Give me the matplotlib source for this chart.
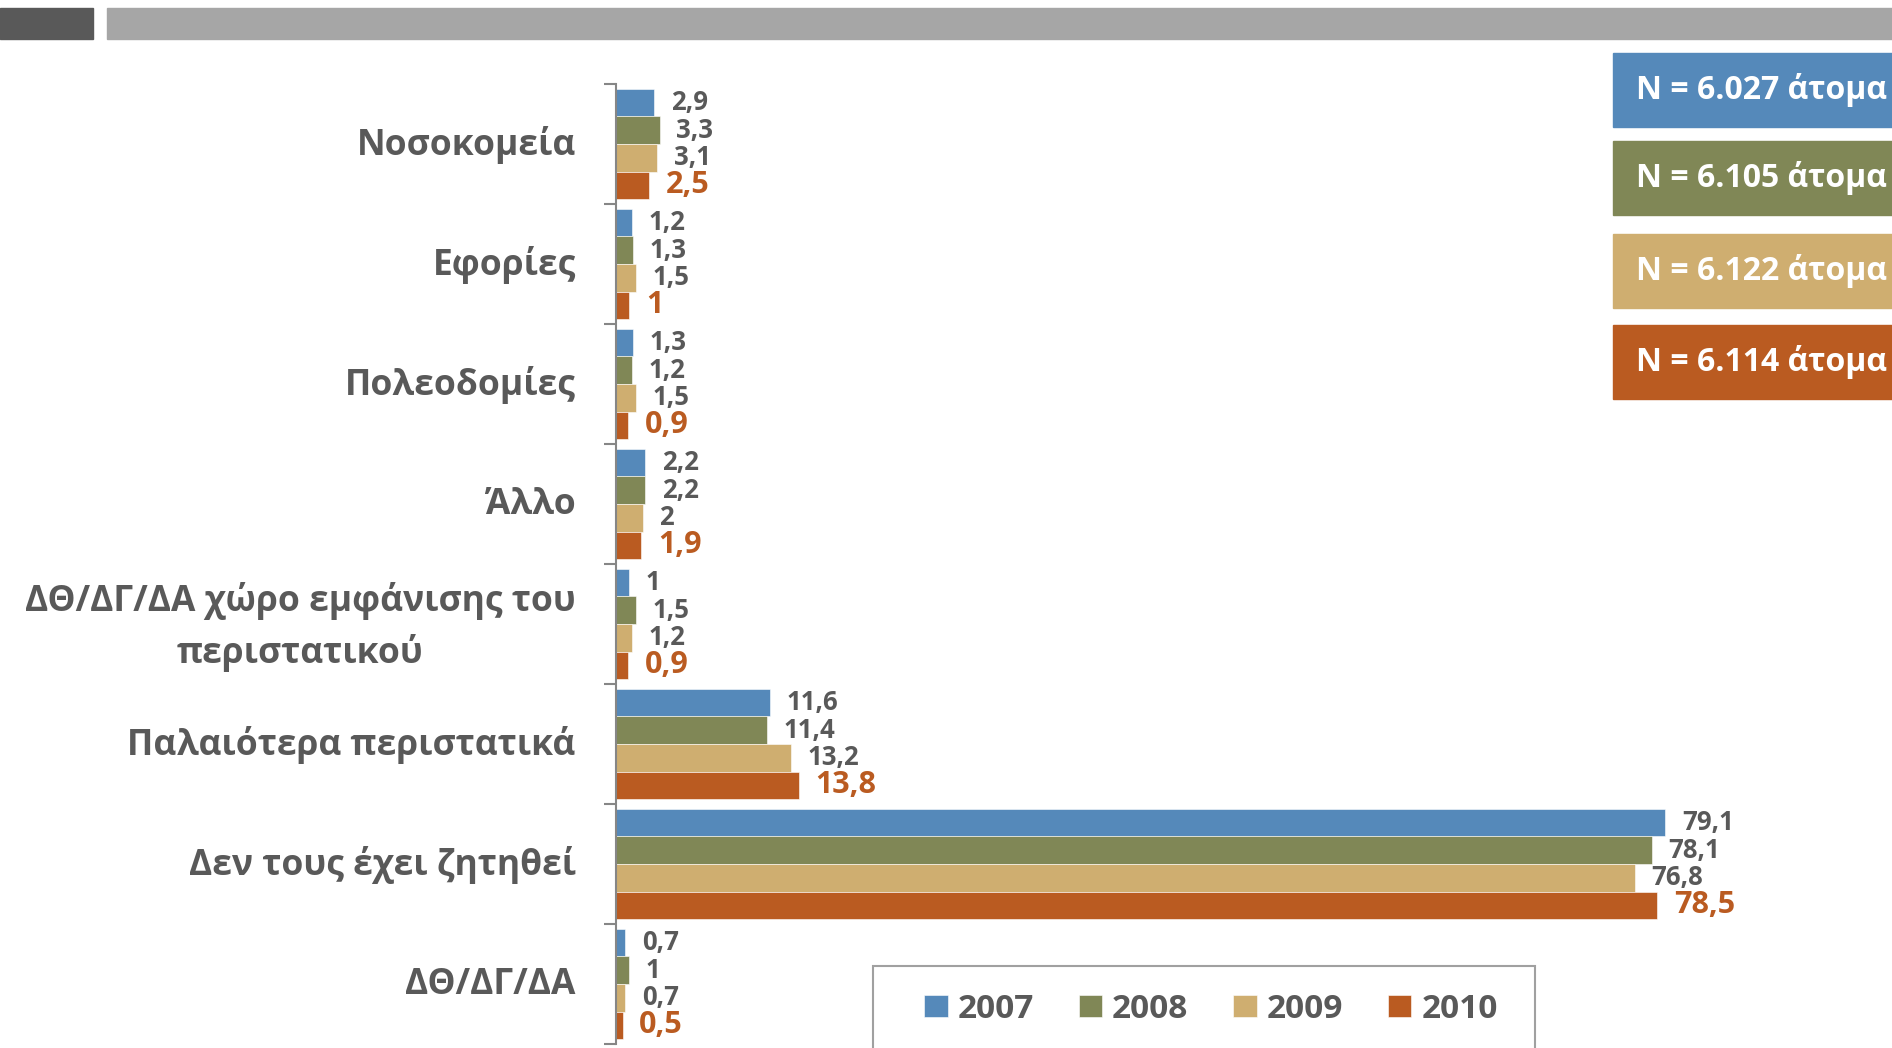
import matplotlib.pyplot as plt
import matplotlib.patches as patches
import matplotlib.transforms as mtransforms
import numpy as np

plt.rcParams['font.family'] = ['Open Sans', 'DejaVu Sans']

categories = ['Νοσοκομεία', 'Εφορίες', 'Πολεοδομίες', 'Άλλο',
              'ΔΘ/ΔΓ/ΔΑ χώρο εμφάνισης του\nπεριστατικού',
              'Παλαιότερα περιστατικά', 'Δεν τους έχει ζητηθεί', 'ΔΘ/ΔΓ/ΔΑ']
years = ['2007', '2008', '2009', '2010']
v2007 = [2.9, 1.2, 1.3, 2.2, 1, 11.6, 79.1, 0.7]
v2008 = [3.3, 1.3, 1.2, 2.2, 1.5, 11.4, 78.1, 1]
v2009 = [3.1, 1.5, 1.5, 2, 1.2, 13.2, 76.8, 0.7]
v2010 = [2.5, 1, 0.9, 1.9, 0.9, 13.8, 78.5, 0.5]
sample_sizes = ['N = 6.027 άτομα', 'N = 6.105 άτομα', 'N = 6.122 άτομα', 'N = 6.114 άτομα']

colors = ['#5589BA', '#808756', '#CFAE70', '#BA5B21']
grey = '#595959'

W, H = 1892, 1048
fig = plt.figure(figsize=(W / 100, H / 100), dpi=100)

# header strips
fig.patches.append(patches.Rectangle((0, 1 - 39 / H), 93 / W, 31 / H,
                                     transform=fig.transFigure, color='#595959'))
fig.patches.append(patches.Rectangle((107 / W, 1 - 39 / H), 1 - 107 / W, 31 / H,
                                     transform=fig.transFigure, color='#A6A6A6'))

ax = fig.add_axes([616 / W, 1 - 1044 / H, 1 - 616 / W, 960 / H])

y = np.arange(len(categories))
h = 0.23
offsets = [-1.5 * h, -0.5 * h, 0.5 * h, 1.5 * h]
series = [v2007, v2008, v2009, v2010]
for vals, off, c, yr in zip(series, offsets, colors, years):
    bars = ax.barh(y + off, vals, height=h, color=c, label=yr,
                   edgecolor='white', linewidth=0.4)
    labels = [('%g' % v).replace('.', ',') for v in vals]
    if yr == '2010':
        ax.bar_label(bars, labels=labels, padding=12, fontsize=22,
                     fontweight='bold', color=colors[3])
    else:
        ax.bar_label(bars, labels=labels, padding=12, fontsize=18.5,
                     fontweight='bold', color=grey)

ax.set_xlim(0, 96.2)
ax.set_ylim(len(categories) - 0.5, -0.5)
ax.set_yticks(y, categories)
ax.set_yticks(np.arange(len(categories) + 1) - 0.5, minor=True)
ax.tick_params(axis='y', which='major', length=0, pad=29, labelsize=25.5,
               labelcolor=grey)
ax.tick_params(axis='y', which='minor', length=9, width=1.5, color='#868686')
for t in ax.get_yticklabels():
    t.set_fontweight('bold')
    t.set_multialignment('center')
    t.set_linespacing(1.45)
    shift = 8 if '\n' in t.get_text() else 4
    t.set_transform(t.get_transform() +
                    mtransforms.ScaledTranslation(0, shift / 100, fig.dpi_scale_trans))
ax.set_xticks([])
for s in ['top', 'right', 'bottom']:
    ax.spines[s].set_visible(False)
ax.spines['left'].set_color('#868686')
ax.spines['left'].set_linewidth(1.5)

# sample size boxes
box_tops = [53, 141, 234, 325]
for top, txt, c in zip(box_tops, sample_sizes, colors):
    fig.patches.append(patches.Rectangle((1613 / W, 1 - (top + 74) / H), 1 - 1613 / W, 74 / H,
                                         transform=fig.transFigure, color=c))
    fig.text(1636 / W, 1 - (top + 37) / H, txt, color='white', fontsize=23,
             fontweight='bold', va='center', ha='left')

# legend box
fig.patches.append(patches.Rectangle((873 / W, -0.02), (1535 - 873) / W, 0.02 + 1 - 966 / H,
                                     transform=fig.transFigure, fill=False,
                                     edgecolor='#A0A0A0', linewidth=1.5))
leg = fig.legend(loc='center', bbox_to_anchor=(1211 / W, 1 - 1009 / H), ncol=4,
                 frameon=False, fontsize=24, handlelength=0.7, handleheight=0.66,
                 handletextpad=0.3, columnspacing=1.35)
for t in leg.get_texts():
    t.set_color(grey)
    t.set_fontweight('bold')

fig.savefig('out.png', dpi=100)
